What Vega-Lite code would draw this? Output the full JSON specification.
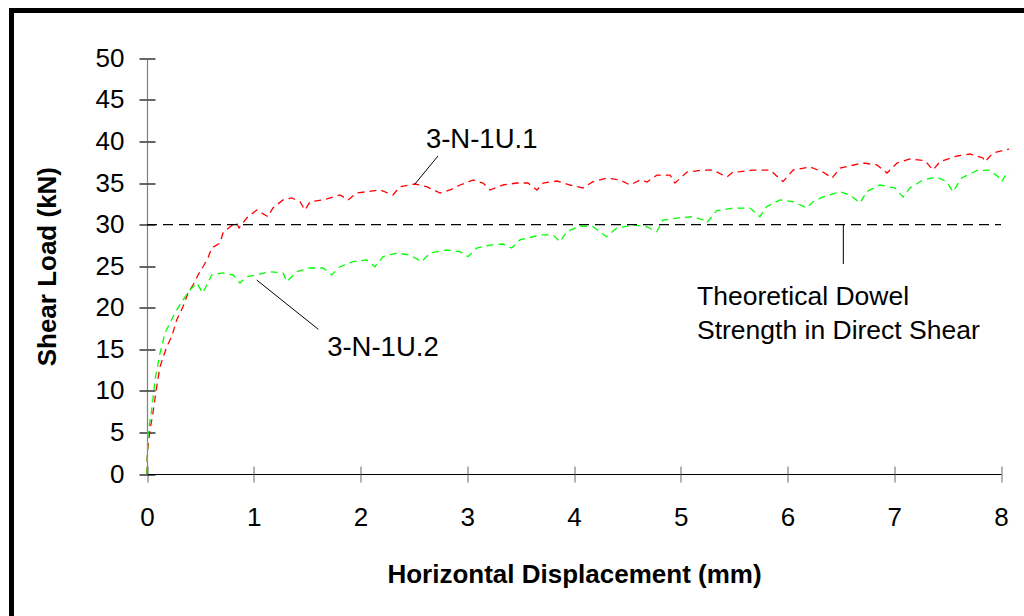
{
  "$schema": "https://vega.github.io/schema/vega-lite/v6.json",
  "width": 1032.5,
  "height": 625.5,
  "autosize": {"type": "none"},
  "padding": {"left": 11.5, "top": 10.5, "right": -20, "bottom": -20},
  "background": "white",
  "config": {
    "view": {"stroke": "#000000", "strokeWidth": 5},
    "font": "Liberation Sans"
  },
  "datasets": {
    "curves": [
      {"series": "3-N-1U.1", "x": 0, "y": 0},
      {"series": "3-N-1U.1", "x": 0.003, "y": 2.53},
      {"series": "3-N-1U.1", "x": 0.028, "y": 5.29},
      {"series": "3-N-1U.1", "x": 0.056, "y": 7.34},
      {"series": "3-N-1U.1", "x": 0.091, "y": 10.5},
      {"series": "3-N-1U.1", "x": 0.122, "y": 12.9},
      {"series": "3-N-1U.1", "x": 0.185, "y": 15.31},
      {"series": "3-N-1U.1", "x": 0.231, "y": 16.51},
      {"series": "3-N-1U.1", "x": 0.278, "y": 18.52},
      {"series": "3-N-1U.1", "x": 0.337, "y": 20.12},
      {"series": "3-N-1U.1", "x": 0.384, "y": 21.77},
      {"series": "3-N-1U.1", "x": 0.431, "y": 22.73},
      {"series": "3-N-1U.1", "x": 0.478, "y": 23.94},
      {"series": "3-N-1U.1", "x": 0.525, "y": 24.93},
      {"series": "3-N-1U.1", "x": 0.571, "y": 25.98},
      {"series": "3-N-1U.1", "x": 0.606, "y": 27.18},
      {"series": "3-N-1U.1", "x": 0.684, "y": 27.78},
      {"series": "3-N-1U.1", "x": 0.712, "y": 28.99},
      {"series": "3-N-1U.1", "x": 0.778, "y": 29.74},
      {"series": "3-N-1U.1", "x": 0.84, "y": 30.19},
      {"series": "3-N-1U.1", "x": 0.862, "y": 29.59},
      {"series": "3-N-1U.1", "x": 0.934, "y": 30.79},
      {"series": "3-N-1U.1", "x": 1.028, "y": 31.75},
      {"series": "3-N-1U.1", "x": 1.133, "y": 30.95},
      {"series": "3-N-1U.1", "x": 1.18, "y": 32.0},
      {"series": "3-N-1U.1", "x": 1.274, "y": 32.96},
      {"series": "3-N-1U.1", "x": 1.356, "y": 33.2},
      {"series": "3-N-1U.1", "x": 1.433, "y": 32.75},
      {"series": "3-N-1U.1", "x": 1.48, "y": 31.75},
      {"series": "3-N-1U.1", "x": 1.527, "y": 32.75},
      {"series": "3-N-1U.1", "x": 1.649, "y": 32.96},
      {"series": "3-N-1U.1", "x": 1.808, "y": 33.56},
      {"series": "3-N-1U.1", "x": 1.883, "y": 32.96},
      {"series": "3-N-1U.1", "x": 1.964, "y": 33.8},
      {"series": "3-N-1U.1", "x": 2.183, "y": 34.16},
      {"series": "3-N-1U.1", "x": 2.304, "y": 33.56},
      {"series": "3-N-1U.1", "x": 2.37, "y": 34.56},
      {"series": "3-N-1U.1", "x": 2.51, "y": 34.88},
      {"series": "3-N-1U.1", "x": 2.62, "y": 34.56},
      {"series": "3-N-1U.1", "x": 2.745, "y": 33.8},
      {"series": "3-N-1U.1", "x": 2.838, "y": 34.16},
      {"series": "3-N-1U.1", "x": 2.932, "y": 34.76},
      {"series": "3-N-1U.1", "x": 3.054, "y": 35.36},
      {"series": "3-N-1U.1", "x": 3.148, "y": 35.0},
      {"series": "3-N-1U.1", "x": 3.213, "y": 34.16},
      {"series": "3-N-1U.1", "x": 3.335, "y": 34.76},
      {"series": "3-N-1U.1", "x": 3.466, "y": 35.0},
      {"series": "3-N-1U.1", "x": 3.569, "y": 35.0},
      {"series": "3-N-1U.1", "x": 3.653, "y": 34.16},
      {"series": "3-N-1U.1", "x": 3.71, "y": 35.0},
      {"series": "3-N-1U.1", "x": 3.841, "y": 35.24},
      {"series": "3-N-1U.1", "x": 3.963, "y": 34.76},
      {"series": "3-N-1U.1", "x": 4.084, "y": 34.4},
      {"series": "3-N-1U.1", "x": 4.178, "y": 35.16},
      {"series": "3-N-1U.1", "x": 4.309, "y": 35.6},
      {"series": "3-N-1U.1", "x": 4.431, "y": 35.36},
      {"series": "3-N-1U.1", "x": 4.525, "y": 34.76},
      {"series": "3-N-1U.1", "x": 4.618, "y": 35.36},
      {"series": "3-N-1U.1", "x": 4.684, "y": 35.12},
      {"series": "3-N-1U.1", "x": 4.778, "y": 35.96},
      {"series": "3-N-1U.1", "x": 4.899, "y": 35.96},
      {"series": "3-N-1U.1", "x": 4.946, "y": 35.0},
      {"series": "3-N-1U.1", "x": 5.059, "y": 36.32},
      {"series": "3-N-1U.1", "x": 5.208, "y": 36.56},
      {"series": "3-N-1U.1", "x": 5.302, "y": 36.56},
      {"series": "3-N-1U.1", "x": 5.433, "y": 35.72},
      {"series": "3-N-1U.1", "x": 5.49, "y": 36.32},
      {"series": "3-N-1U.1", "x": 5.555, "y": 36.36},
      {"series": "3-N-1U.1", "x": 5.677, "y": 36.56},
      {"series": "3-N-1U.1", "x": 5.836, "y": 36.56},
      {"series": "3-N-1U.1", "x": 5.958, "y": 35.16},
      {"series": "3-N-1U.1", "x": 6.052, "y": 36.56},
      {"series": "3-N-1U.1", "x": 6.211, "y": 36.93},
      {"series": "3-N-1U.1", "x": 6.333, "y": 36.32},
      {"series": "3-N-1U.1", "x": 6.417, "y": 35.6},
      {"series": "3-N-1U.1", "x": 6.492, "y": 36.8},
      {"series": "3-N-1U.1", "x": 6.707, "y": 37.41},
      {"series": "3-N-1U.1", "x": 6.838, "y": 37.17},
      {"series": "3-N-1U.1", "x": 6.932, "y": 36.2},
      {"series": "3-N-1U.1", "x": 7.026, "y": 37.41},
      {"series": "3-N-1U.1", "x": 7.147, "y": 37.89},
      {"series": "3-N-1U.1", "x": 7.288, "y": 37.68},
      {"series": "3-N-1U.1", "x": 7.363, "y": 36.56},
      {"series": "3-N-1U.1", "x": 7.428, "y": 37.56},
      {"series": "3-N-1U.1", "x": 7.588, "y": 38.25},
      {"series": "3-N-1U.1", "x": 7.71, "y": 38.49},
      {"series": "3-N-1U.1", "x": 7.831, "y": 38.01},
      {"series": "3-N-1U.1", "x": 7.85, "y": 37.56},
      {"series": "3-N-1U.1", "x": 7.925, "y": 38.61},
      {"series": "3-N-1U.1", "x": 8.075, "y": 39.09},
      {"series": "3-N-1U.2", "x": 0, "y": 0},
      {"series": "3-N-1U.2", "x": 0.009, "y": 4.93},
      {"series": "3-N-1U.2", "x": 0.044, "y": 7.7},
      {"series": "3-N-1U.2", "x": 0.075, "y": 11.31},
      {"series": "3-N-1U.2", "x": 0.122, "y": 14.55},
      {"series": "3-N-1U.2", "x": 0.169, "y": 16.96},
      {"series": "3-N-1U.2", "x": 0.215, "y": 18.16},
      {"series": "3-N-1U.2", "x": 0.262, "y": 19.37},
      {"series": "3-N-1U.2", "x": 0.325, "y": 20.72},
      {"series": "3-N-1U.2", "x": 0.403, "y": 22.13},
      {"series": "3-N-1U.2", "x": 0.466, "y": 22.97},
      {"series": "3-N-1U.2", "x": 0.522, "y": 21.77},
      {"series": "3-N-1U.2", "x": 0.606, "y": 23.94},
      {"series": "3-N-1U.2", "x": 0.712, "y": 24.18},
      {"series": "3-N-1U.2", "x": 0.806, "y": 23.94},
      {"series": "3-N-1U.2", "x": 0.871, "y": 22.97},
      {"series": "3-N-1U.2", "x": 0.934, "y": 23.73},
      {"series": "3-N-1U.2", "x": 1.028, "y": 23.94},
      {"series": "3-N-1U.2", "x": 1.152, "y": 24.33},
      {"series": "3-N-1U.2", "x": 1.274, "y": 24.18},
      {"series": "3-N-1U.2", "x": 1.309, "y": 23.13},
      {"series": "3-N-1U.2", "x": 1.402, "y": 24.33},
      {"series": "3-N-1U.2", "x": 1.527, "y": 24.78},
      {"series": "3-N-1U.2", "x": 1.649, "y": 24.78},
      {"series": "3-N-1U.2", "x": 1.73, "y": 23.94},
      {"series": "3-N-1U.2", "x": 1.808, "y": 24.93},
      {"series": "3-N-1U.2", "x": 1.93, "y": 25.54},
      {"series": "3-N-1U.2", "x": 2.058, "y": 25.74},
      {"series": "3-N-1U.2", "x": 2.136, "y": 24.93},
      {"series": "3-N-1U.2", "x": 2.211, "y": 26.14},
      {"series": "3-N-1U.2", "x": 2.339, "y": 26.58},
      {"series": "3-N-1U.2", "x": 2.464, "y": 26.34},
      {"series": "3-N-1U.2", "x": 2.573, "y": 25.54},
      {"series": "3-N-1U.2", "x": 2.651, "y": 26.58},
      {"series": "3-N-1U.2", "x": 2.807, "y": 26.94},
      {"series": "3-N-1U.2", "x": 2.932, "y": 26.74},
      {"series": "3-N-1U.2", "x": 3.007, "y": 26.14},
      {"series": "3-N-1U.2", "x": 3.089, "y": 27.18},
      {"series": "3-N-1U.2", "x": 3.213, "y": 27.54},
      {"series": "3-N-1U.2", "x": 3.335, "y": 27.66},
      {"series": "3-N-1U.2", "x": 3.416, "y": 27.18},
      {"series": "3-N-1U.2", "x": 3.494, "y": 28.15},
      {"series": "3-N-1U.2", "x": 3.681, "y": 28.75},
      {"series": "3-N-1U.2", "x": 3.803, "y": 28.75},
      {"series": "3-N-1U.2", "x": 3.869, "y": 27.94},
      {"series": "3-N-1U.2", "x": 3.932, "y": 29.14},
      {"series": "3-N-1U.2", "x": 4.056, "y": 29.83},
      {"series": "3-N-1U.2", "x": 4.178, "y": 29.74},
      {"series": "3-N-1U.2", "x": 4.306, "y": 28.54},
      {"series": "3-N-1U.2", "x": 4.4, "y": 29.59},
      {"series": "3-N-1U.2", "x": 4.553, "y": 29.95},
      {"series": "3-N-1U.2", "x": 4.681, "y": 29.74},
      {"series": "3-N-1U.2", "x": 4.775, "y": 29.14},
      {"series": "3-N-1U.2", "x": 4.834, "y": 30.55},
      {"series": "3-N-1U.2", "x": 4.993, "y": 30.83},
      {"series": "3-N-1U.2", "x": 5.115, "y": 30.95},
      {"series": "3-N-1U.2", "x": 5.208, "y": 30.55},
      {"series": "3-N-1U.2", "x": 5.243, "y": 30.19},
      {"series": "3-N-1U.2", "x": 5.337, "y": 31.67},
      {"series": "3-N-1U.2", "x": 5.49, "y": 31.99},
      {"series": "3-N-1U.2", "x": 5.649, "y": 31.99},
      {"series": "3-N-1U.2", "x": 5.742, "y": 30.95},
      {"series": "3-N-1U.2", "x": 5.805, "y": 32.15},
      {"series": "3-N-1U.2", "x": 5.93, "y": 32.96},
      {"series": "3-N-1U.2", "x": 6.052, "y": 32.75},
      {"series": "3-N-1U.2", "x": 6.18, "y": 31.99},
      {"series": "3-N-1U.2", "x": 6.239, "y": 32.75},
      {"series": "3-N-1U.2", "x": 6.333, "y": 33.32},
      {"series": "3-N-1U.2", "x": 6.492, "y": 33.96},
      {"series": "3-N-1U.2", "x": 6.585, "y": 33.56},
      {"series": "3-N-1U.2", "x": 6.679, "y": 32.6},
      {"series": "3-N-1U.2", "x": 6.742, "y": 33.96},
      {"series": "3-N-1U.2", "x": 6.866, "y": 34.76},
      {"series": "3-N-1U.2", "x": 7.007, "y": 34.4},
      {"series": "3-N-1U.2", "x": 7.082, "y": 33.32},
      {"series": "3-N-1U.2", "x": 7.147, "y": 34.4},
      {"series": "3-N-1U.2", "x": 7.269, "y": 35.36},
      {"series": "3-N-1U.2", "x": 7.398, "y": 35.72},
      {"series": "3-N-1U.2", "x": 7.491, "y": 35.16},
      {"series": "3-N-1U.2", "x": 7.55, "y": 33.96},
      {"series": "3-N-1U.2", "x": 7.632, "y": 35.6},
      {"series": "3-N-1U.2", "x": 7.772, "y": 36.48},
      {"series": "3-N-1U.2", "x": 7.897, "y": 36.56},
      {"series": "3-N-1U.2", "x": 7.972, "y": 35.76},
      {"series": "3-N-1U.2", "x": 8.007, "y": 35.16},
      {"series": "3-N-1U.2", "x": 8.066, "y": 36.44}
    ],
    "theory": [
      {"x": 0, "y": 30},
      {"x": 8, "y": 30}
    ],
    "leaders": [
      {"x": 2.51, "y": 34.88, "x2": 2.726, "y2": 38.25},
      {"x": 1.028, "y": 23.33, "x2": 1.605, "y2": 17.4},
      {"x": 6.523, "y": 29.95, "x2": 6.523, "y2": 25.26}
    ],
    "seriesLabels": [
      {"label": "3-N-1U.1", "x": 3.135, "y": 40.17},
      {"label": "3-N-1U.2", "x": 2.21, "y": 15.2}
    ],
    "theoryLabel": [
      {"label": "Theoretical Dowel", "x": 5.152, "y": 21.29},
      {"label": "Strength in Direct Shear", "x": 5.152, "y": 17.2}
    ]
  },
  "layer": [
    {
      "data": {"name": "curves"},
      "mark": {"type": "line", "strokeWidth": 1.3, "strokeDash": [7, 5]},
      "encoding": {
        "x": {
          "field": "x", "type": "quantitative",
          "scale": {"domain": [0, 8], "range": [135.5, 989.5], "nice": false, "zero": false},
          "axis": {
            "orient": "bottom", "offset": -162, "values": [0, 1, 2, 3, 4, 5, 6, 7, 8],
            "grid": false, "domainColor": "#000000", "domainWidth": 1.2,
            "tickColor": "#808080", "tickWidth": 1.2, "tickSize": 8,
            "labelFont": "Liberation Sans", "labelFontSize": 26, "labelColor": "#000000", "labelPadding": 22,
            "labelFlush": false,
            "title": "Horizontal Displacement (mm)", "titleFont": "Liberation Sans", "titleFontSize": 26,
            "titleFontWeight": "bold", "titleColor": "#000000", "titlePadding": 31
          }
        },
        "y": {
          "field": "y", "type": "quantitative",
          "scale": {"domain": [0, 50], "range": [463.5, 47.8], "nice": false, "zero": false},
          "axis": {
            "orient": "left", "offset": -135.5, "values": [0, 5, 10, 15, 20, 25, 30, 35, 40, 45, 50],
            "grid": false, "domainColor": "#808080", "domainWidth": 1.2,
            "tickColor": "#000000", "tickWidth": 1.2, "tickSize": 8,
            "labelFont": "Liberation Sans", "labelFontSize": 26, "labelColor": "#000000", "labelPadding": 15,
            "labelFlush": false,
            "title": "Shear Load (kN)", "titleFont": "Liberation Sans", "titleFontSize": 26,
            "titleFontWeight": "bold", "titleColor": "#000000", "titlePadding": 35
          }
        },
        "color": {
          "field": "series", "type": "nominal",
          "scale": {"domain": ["3-N-1U.1", "3-N-1U.2"], "range": ["#FF0000", "#00FF00"]},
          "legend": null
        }
      }
    },
    {
      "data": {"name": "theory"},
      "mark": {"type": "line", "color": "#000000", "strokeWidth": 1.2, "strokeDash": [10, 6]},
      "encoding": {
        "x": {
          "field": "x", "type": "quantitative",
          "axis": {
            "orient": "bottom", "offset": -162, "values": [0, 1, 2, 3, 4, 5, 6, 7, 8],
            "grid": false, "domain": false, "labels": false, "title": null,
            "tickColor": "#808080", "tickWidth": 1.2, "tickSize": -8
          }
        },
        "y": {
          "field": "y", "type": "quantitative",
          "axis": {
            "orient": "left", "offset": -135.5, "values": [0, 5, 10, 15, 20, 25, 30, 35, 40, 45, 50],
            "grid": false, "domain": false, "labels": false, "title": null,
            "tickColor": "#000000", "tickWidth": 1.2, "tickSize": -8
          }
        }
      }
    },
    {
      "data": {"name": "leaders"},
      "mark": {"type": "rule", "color": "#000000", "strokeWidth": 1},
      "encoding": {
        "x": {"field": "x", "type": "quantitative", "axis": null},
        "y": {"field": "y", "type": "quantitative", "axis": null},
        "x2": {"field": "x2"},
        "y2": {"field": "y2"}
      }
    },
    {
      "data": {"name": "seriesLabels"},
      "mark": {"type": "text", "font": "Liberation Sans", "fontSize": 27.5, "color": "#000000", "align": "center", "baseline": "middle"},
      "encoding": {
        "x": {"field": "x", "type": "quantitative", "axis": null},
        "y": {"field": "y", "type": "quantitative", "axis": null},
        "text": {"field": "label"}
      }
    },
    {
      "data": {"name": "theoryLabel"},
      "mark": {"type": "text", "font": "Liberation Sans", "fontSize": 26.5, "color": "#000000", "align": "left", "baseline": "middle"},
      "encoding": {
        "x": {"field": "x", "type": "quantitative", "axis": null},
        "y": {"field": "y", "type": "quantitative", "axis": null},
        "text": {"field": "label"}
      }
    }
  ],
  "resolve": {"axis": {"x": "independent", "y": "independent"}}
}
